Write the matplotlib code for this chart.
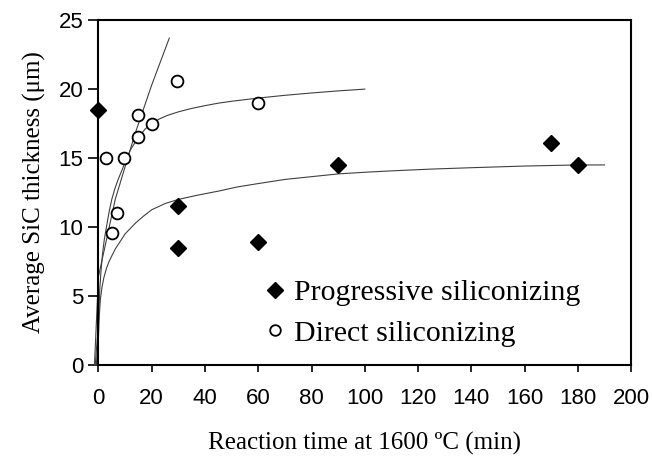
import matplotlib
matplotlib.use('Agg')
import matplotlib.pyplot as plt

# measured SiC layer thickness (um) vs reaction time (min)
prog_time = [0, 30, 30, 60, 90, 170, 180]
prog_thick = [18.5, 11.5, 8.45, 8.9, 14.5, 16.1, 14.5]

direct_time = [3, 5, 7, 9.5, 15, 15, 20, 29.5, 60]
direct_thick = [15.0, 9.6, 11.0, 15.0, 16.5, 18.1, 17.5, 20.6, 19.0]

# trend lines
fit_prog_t = [-0.8, 0.0, 0.3, 0.7, 1.3, 2, 3, 4, 5, 6.3, 8, 10, 12, 14, 17, 20, 25, 30,
              37, 45, 52, 60, 70, 80, 90, 100, 110, 125, 140, 160, 180, 190]
fit_prog_y = [0.0, 2.0, 3.5, 4.7, 5.6, 6.3, 7.0, 7.5, 7.9, 8.4, 8.9, 9.5, 9.9, 10.3, 10.8,
              11.25, 11.7, 12.0, 12.3, 12.6, 12.9, 13.15, 13.45, 13.65, 13.85, 13.97, 14.07,
              14.2, 14.3, 14.42, 14.5, 14.5]

fit_direct_t = [-1.2, 0.0, 0.5, 1.0, 1.5, 2.2, 3, 4, 5, 6.2, 7.5, 9, 10, 12, 15, 17.5, 20,
                23, 26, 30, 35, 40, 45, 50, 60, 70, 80, 90, 100]
fit_direct_y = [0.0, 3.0, 5.5, 6.9, 8.0, 9.1, 10.0, 11.1, 12.0, 12.8, 13.5, 14.2, 14.7,
                15.6, 16.5, 17.1, 17.5, 17.85, 18.1, 18.35, 18.6, 18.8, 18.98, 19.12, 19.35,
                19.55, 19.72, 19.87, 20.0]

fit_lin_t = [-1.5, 0.0, 6.3, 13.8, 20, 26.6]
fit_lin_y = [0.0, 6.4, 12.0, 16.8, 20.3, 23.7]

fig = plt.figure(figsize=(6.52, 4.69), dpi=100)
ax = fig.add_axes([0.151, 0.222, 0.817, 0.735])

ax.plot(fit_prog_t, fit_prog_y, color='0.25', lw=0.8, clip_on=False)
ax.plot(fit_direct_t, fit_direct_y, color='0.25', lw=0.8, clip_on=False)
ax.plot(fit_lin_t, fit_lin_y, color='0.25', lw=0.8, clip_on=False)

ax.plot(prog_time, prog_thick, 'D', color='black', markersize=8.5, ls='none',
        label='Progressive siliconizing', clip_on=False, zorder=3)
ax.plot(direct_time, direct_thick, 'o', mfc='white', mec='black', mew=1.3,
        markersize=8.5, ls='none', label='Direct siliconizing', clip_on=False, zorder=3)

ax.set_xlim(0, 200)
ax.set_ylim(0, 25)
ax.set_xticks(range(0, 201, 20))
ax.set_yticks(range(0, 26, 5))

for s in ax.spines.values():
    s.set_linewidth(1.5)
ax.tick_params(direction='out', width=1.2, labelsize=16, top=False, right=False)
ax.tick_params(axis='x', length=5, pad=12)
ax.tick_params(axis='y', length=7, pad=4)
for lab in ax.get_xticklabels() + ax.get_yticklabels():
    lab.set_family('Liberation Sans')

ax.set_xlabel('Reaction time at 1600 ºC (min)', family='Liberation Serif',
              fontsize=18, labelpad=16)
ax.set_ylabel('Average SiC thickness (μm)', family='Liberation Serif',
              fontsize=18, labelpad=9)

leg = ax.legend(loc='lower left', bbox_to_anchor=(0.255, -0.025), frameon=False,
                prop={'family': 'Liberation Serif', 'size': 21.5},
                handletextpad=0.2, handlelength=0.9, labelspacing=0.45,
                markerscale=0.9)

fig.savefig('out.png', dpi=100)
